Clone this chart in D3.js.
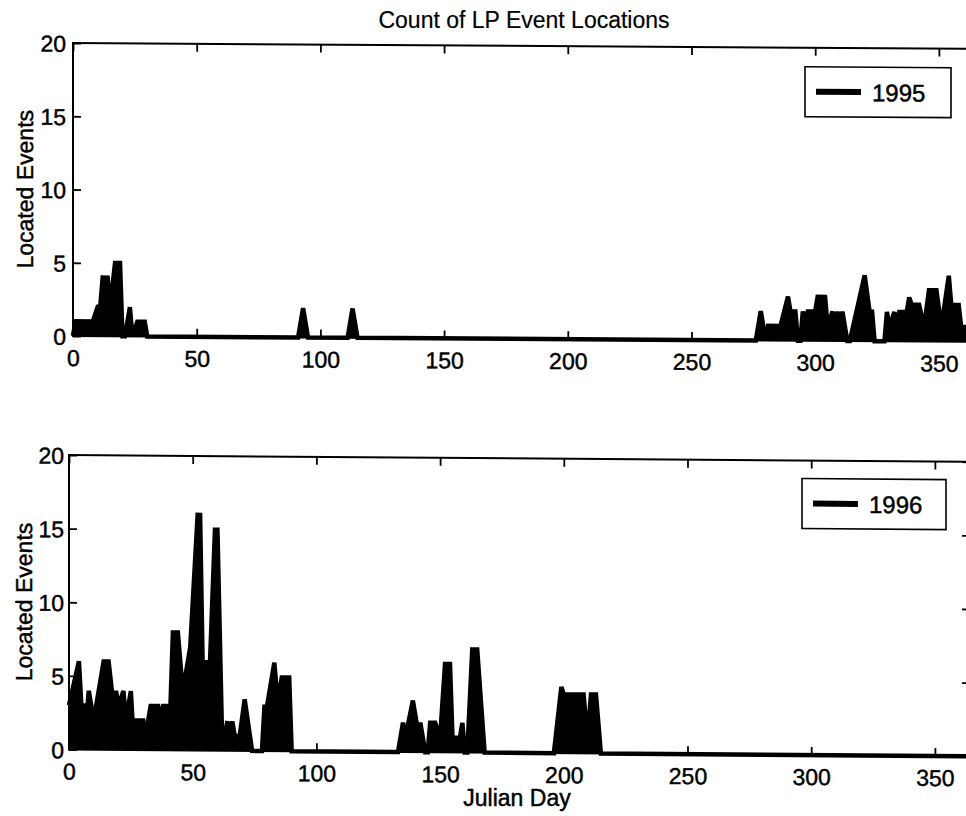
<!DOCTYPE html>
<html><head><meta charset="utf-8">
<script src="https://cdn.jsdelivr.net/npm/d3@7"></script>
<style>
body{margin:0;background:#fff;}
svg{display:block;}
text{font-family:"Liberation Sans", Arial, Helvetica, sans-serif;fill:#000;stroke:#000;stroke-width:0.45px;}
</style>
</head><body>
<svg id="c" width="966" height="816"></svg>
<script>
// ---- data ----
const title = "Count of LP Event Locations";
const xLabel = "Julian Day";
const yLabel = "Located Events";
const xTicks = [0, 50, 100, 150, 200, 250, 300, 350];
const yTicks = [0, 5, 10, 15, 20];
const xDomain = [0, 365];
const yDomain = [0, 20];
const years = ["1995", "1996"];

const days1995 = [0,1,8,10,11,12,14,15,17,19,20,21,23,24,26,29,30,91,93,95,111,113,115,
  276,278,280,281,286,289,290,292,293,294,295,296,297,300,301,304,305,307,308,
  309,310,311,313,314,320,322,323,324,328,329,330,332,333,334,337,338,339,342,344,
  346,349,351,354,355,358,359,365];
const counts1995 = [0,1,1,2,2,4,4,2,5,5,0,0,2,0,1,1,0,0,2,0,0,2,0,
  0,2,0,1,1,3,2,2,0,0,2,1,2,2,3,3,1,2,1,
  2,1,2,0,0,4.5,2,2,0,0,2,1,2,1,2,2,3,2.5,2.5,1,
  3.5,3.5,1,4.5,2.5,2.5,1,1];

const days1996 = [0,4,5,6,7,8,10,12,14,16,18,19,20,22,23,25,26,27,30,31,
  33,36,37,38,41,42,44,46,49,52,53,54,57,59,60,62,64,65,66,67,
  69,71,74,78,79,80,83,84,85,86,89,90,133,135,136,139,141,142,144,145,
  146,148,150,152,154,155,158,159,160,161,163,165,168,196,199,200,208,209,210,211,
  213,215,365];
const counts1996 = [3,6,3,3,2,4,2,4,6,6,3,4,3,4,2,4,1,2,2,1,
  3,3,2,3,3,8,8,4,7,16,16,6,6,15,15,0,2,1,2,1,
  1,3.5,0,0,3,3,6,4,4,5,5,0,0,2,1,3.5,1.5,2,0,0,
  2,2,1,6,6,1,1,2,0,0,7,7,0,0,4.5,4,4,2,2,4,
  4,0,0];

// ---- layout ----
const panels = [
  {year: years[0], days: days1995, counts: counts1995, left: 73, right: 976, top: 43, bottom: 336, skew: 0.37,
   pad: 7, ylabX: 33, legend: {x: 805, y: 62, w: 146, h: 50}},
  {year: years[1], days: days1996, counts: counts1996, left: 69, right: 972, top: 455, bottom: 749.5, skew: 0.43,
   pad: 5, ylabX: 32, legend: {x: 802, y: 473, w: 144, h: 50}}
];

const svg = d3.select("#c");
const FS = 23;

svg.append("text").attr("x", 524).attr("y", 28).attr("text-anchor", "middle")
  .attr("font-size", FS).style("stroke-width", "0.2px").text(title);
svg.append("text").attr("x", 517).attr("y", 806).attr("text-anchor", "middle")
  .attr("font-size", FS).text(xLabel);

panels.forEach((p) => {
  const g = svg.append("g")
    .attr("transform", `translate(${p.left},0) skewY(${p.skew}) translate(${-p.left},0)`);
  const x = d3.scaleLinear().domain(xDomain).range([p.left, p.right]);
  const y = d3.scaleLinear().domain(yDomain).range([p.bottom, p.top]);
  const data = d3.zip(p.days, p.counts);

  const area = d3.area().x(d => x(d[0])).y0(y(0)).y1(d => y(d[1]));
  const line = d3.line().x(d => x(d[0])).y(d => y(d[1]));
  g.append("path").datum(data).attr("d", area).attr("fill", "#000");
  g.append("path").datum(data).attr("d", line).attr("fill", "none")
    .attr("stroke", "#000").attr("stroke-width", 4.5)
    .attr("stroke-linejoin", "miter").attr("stroke-miterlimit", 4);

  // axes
  const axB = g.append("g").attr("transform", `translate(0,${p.bottom})`)
    .call(d3.axisBottom(x).tickValues(xTicks).tickSizeInner(-8).tickSizeOuter(0).tickFormat(d3.format("d")));
  axB.selectAll("text").attr("y", 30).attr("dy", null).attr("font-size", FS);
  const axL = g.append("g").attr("transform", `translate(${p.left},0)`)
    .call(d3.axisLeft(y).tickValues(yTicks).tickSizeInner(-8).tickSizeOuter(0).tickPadding(p.pad).tickFormat(d3.format("d")));
  axL.selectAll("text").attr("font-size", FS).attr("dy", "0.36em");
  const axT = g.append("g").attr("transform", `translate(0,${p.top})`)
    .call(d3.axisTop(x).tickValues(xTicks).tickSizeInner(-8).tickSizeOuter(0).tickFormat(() => ""));
  const axR = g.append("g").attr("transform", `translate(${p.right},0)`)
    .call(d3.axisRight(y).tickValues(yTicks).tickSizeInner(-10).tickSizeOuter(0).tickFormat(() => ""));
  [axB, axL, axT, axR].forEach(a => {
    a.select(".domain").remove();
    a.selectAll("line").attr("stroke", "#000").attr("stroke-width", 1.8);
  });

  g.append("rect").attr("x", p.left).attr("y", p.top)
    .attr("width", p.right - p.left).attr("height", p.bottom - p.top)
    .attr("fill", "none").attr("stroke", "#000").attr("stroke-width", 2);

  // y label
  const cy = (p.top + p.bottom) / 2;
  g.append("text").attr("transform", `translate(${p.ylabX},${cy}) rotate(-90)`)
    .attr("text-anchor", "middle").attr("font-size", FS).text(yLabel);

  // legend
  const L = p.legend;
  g.append("rect").attr("x", L.x).attr("y", L.y).attr("width", L.w).attr("height", L.h)
    .attr("fill", "#fff").attr("stroke", "#000").attr("stroke-width", 1.6);
  g.append("line").attr("x1", L.x + 11).attr("x2", L.x + 56)
    .attr("y1", L.y + 25).attr("y2", L.y + 25)
    .attr("stroke", "#000").attr("stroke-width", 6);
  g.append("text").attr("x", L.x + 67).attr("y", L.y + 34)
    .attr("font-size", 24).text(p.year);
});
</script>
</body></html>
